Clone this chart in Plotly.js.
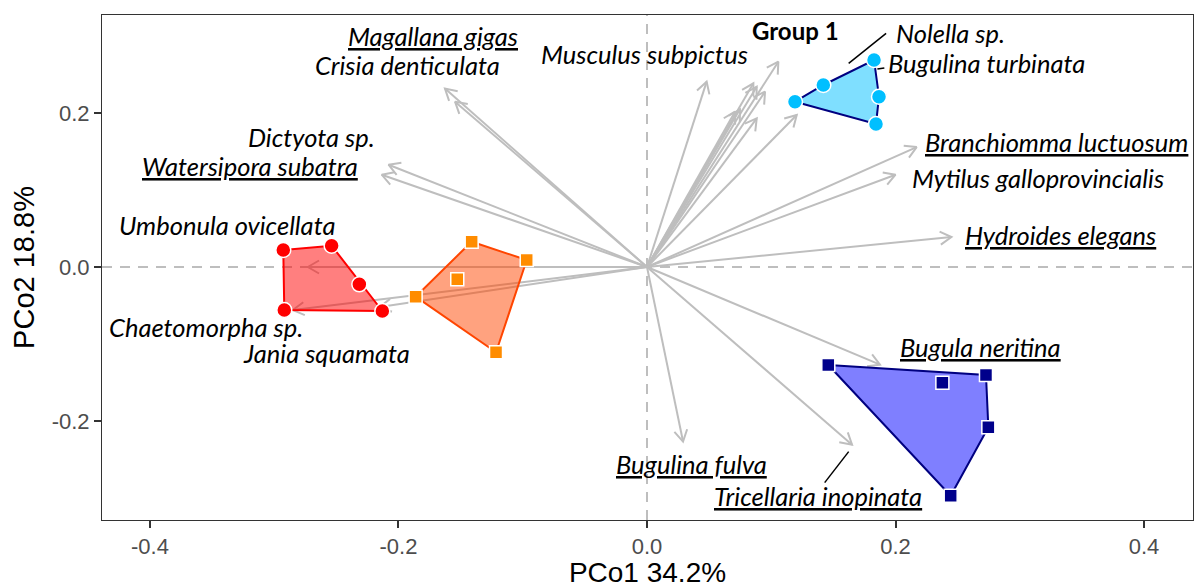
<!DOCTYPE html>
<html><head><meta charset="utf-8">
<script src="https://cdn.plot.ly/plotly-3.0.1.min.js"></script>
<style>html,body{margin:0;padding:0;background:#fff}</style>
</head><body><div id="chart" style="width:1200px;height:588px"></div>
<script>
// ---- sample scores (PCo1, PCo2) per group ----
const redX = [-0.2927, -0.2538, -0.2315, -0.2130, -0.2919];
const redY = [0.0221, 0.0277, -0.0225, -0.0572, -0.0559];
const orangeX = [-0.1411, -0.0968, -0.1527, -0.1862, -0.1215];
const orangeY = [0.0329, 0.0091, -0.0160, -0.0386, -0.1109];
const skyX = [0.1827, 0.1419, 0.1191, 0.1867, 0.1843];
const skyY = [0.2692, 0.2367, 0.2150, 0.2215, 0.1860];
const navyX = [0.1459, 0.2377, 0.2728, 0.2747, 0.2444];
const navyY = [-0.1274, -0.1504, -0.1404, -0.2085, -0.2974];

// ---- species vectors (arrow tips) ----
const vecX = [-0.1626, -0.1545, 0.0480, 0.1057, 0.0856, 0.0883, 0.0950, 0.0748, 0.0708, 0.0883, 0.1205,
              0.2170, 0.2000, 0.2450, -0.2080, -0.2135, -0.2730, -0.2850, -0.2150, 0.1875, 0.1650, 0.0290];
const vecY = [0.2320, 0.2150, 0.2410, 0.2670, 0.2389, 0.2345, 0.2280, 0.2050, 0.2020, 0.1933, 0.1977,
              0.1560, 0.1200, 0.0390, 0.1330, 0.1200, 0.0000, -0.0560, -0.0520, -0.1270, -0.2310, -0.2270];

// ---- species labels ----
const labelText = ["Magallana gigas", "Crisia denticulata", "Musculus subpictus", "Nolella sp.", "Bugulina turbinata",
  "Dictyota sp.", "Watersipora subatra", "Branchiomma luctuosum", "Mytilus galloprovincialis", "Umbonula ovicellata",
  "Hydroides elegans", "Chaetomorpha sp.", "Jania squamata", "Bugula neritina", "Bugulina fulva", "Tricellaria inopinata"];
const labelUnderlined = [true, false, false, false, false, false, true, true, false, false, true, false, false, true, true, true];
const labelX = [-0.1722, -0.1924, -0.0024, 0.2439, 0.2736, -0.2704, -0.3195, 0.3292, 0.3147, -0.3380,
  0.3324, -0.3549, -0.2583, 0.2680, 0.0362, 0.1376];
const labelY = [0.3005, 0.2630, 0.2770, 0.3043, 0.2653, 0.1690, 0.1313, 0.1625, 0.1157, 0.0546,
  0.0416, -0.0780, -0.1118, -0.1040, -0.2562, -0.2978];
const groupLabel = "Group 1";
const groupLabelX = 0.1191, groupLabelY = 0.3082;

// ---- label leader segments ----
const leadX = [0.1623, 0.1924, null, 0.1854, 0.1910, null, 0.1623, 0.1430];
const leadY = [0.2647, 0.3038, null, 0.2574, 0.2587, null, -0.2401, -0.2804];

const xRange = [-0.4386, 0.4394];
const yRange = [-0.329, 0.3277];
const W = 1200, H = 588, M = {l: 102, r: 7, t: 15, b: 68};
const pxX = (W - M.l - M.r) / (xRange[1] - xRange[0]);
const pxY = (H - M.t - M.b) / (yRange[1] - yRange[0]);

// arrows: shafts + open heads
const ax = [], ay = [];
const headLen = 13, headAng = Math.PI / 6;
for (let i = 0; i < vecX.length; i++) {
  const x = vecX[i], y = vecY[i];
  ax.push(0, x, null); ay.push(0, y, null);
  const dx = x * pxX, dy = y * pxY, L = Math.hypot(dx, dy);
  const ux = -dx / L, uy = -dy / L;
  const pts = [];
  for (const s of [1, -1]) {
    const a = headAng * s;
    const rx = ux * Math.cos(a) - uy * Math.sin(a);
    const ry = ux * Math.sin(a) + uy * Math.cos(a);
    pts.push([x + headLen * rx / pxX, y + headLen * ry / pxY]);
  }
  ax.push(pts[0][0], x, pts[1][0], null);
  ay.push(pts[0][1], y, pts[1][1], null);
}

function hull(xs, ys) {
  const p = xs.map((x, i) => [x * pxX, ys[i] * pxY, x, ys[i]]).sort((a, b) => a[0] - b[0] || a[1] - b[1]);
  const cross = (o, a, b) => (a[0] - o[0]) * (b[1] - o[1]) - (a[1] - o[1]) * (b[0] - o[0]);
  const lower = [], upper = [];
  for (const q of p) { while (lower.length >= 2 && cross(lower[lower.length - 2], lower[lower.length - 1], q) <= 0) lower.pop(); lower.push(q); }
  for (const q of p.slice().reverse()) { while (upper.length >= 2 && cross(upper[upper.length - 2], upper[upper.length - 1], q) <= 0) upper.pop(); upper.push(q); }
  const h = lower.slice(0, -1).concat(upper.slice(0, -1));
  h.push(h[0]);
  return {x: h.map(q => q[2]), y: h.map(q => q[3])};
}

const groups = [
  {x: redX, y: redY, fill: 'rgba(255,0,0,0.5)', line: '#FF0000', mk: '#FF0000', sym: 'circle', size: 15},
  {x: orangeX, y: orangeY, fill: 'rgba(255,69,0,0.5)', line: '#FF4500', mk: '#FF8C00', sym: 'square', size: 13},
  {x: skyX, y: skyY, fill: 'rgba(0,191,255,0.5)', line: '#000080', mk: '#00BFFF', sym: 'circle', size: 15},
  {x: navyX, y: navyY, fill: 'rgba(0,0,255,0.5)', line: '#000080', mk: '#00008B', sym: 'square', size: 13}
];

const traces = [];
traces.push({x: ax, y: ay, mode: 'lines', line: {color: '#BEBEBE', width: 2}, hoverinfo: 'skip', showlegend: false});
for (const g of groups) {
  const h = hull(g.x, g.y);
  traces.push({x: h.x, y: h.y, mode: 'lines', fill: 'toself', fillcolor: g.fill, line: {color: g.line, width: 2}, hoverinfo: 'skip', showlegend: false});
}
for (const g of groups) {
  traces.push({x: g.x, y: g.y, mode: 'markers', marker: {color: g.mk, symbol: g.sym, size: g.size, line: {color: '#FFFFFF', width: 1.5}}, showlegend: false});
}
traces.push({x: leadX, y: leadY, mode: 'lines', line: {color: '#000000', width: 1.5}, hoverinfo: 'skip', showlegend: false});

const annotations = labelText.map((t, i) => ({
  x: labelX[i], y: labelY[i], xref: 'x', yref: 'y', showarrow: false, xanchor: 'center', yanchor: 'middle',
  text: labelUnderlined[i] ? '<i><u>' + t + '</u></i>' : '<i>' + t + '</i>',
  font: {family: 'Lato, sans-serif', size: 25.5, color: '#000000'}
}));
annotations.push({x: groupLabelX, y: groupLabelY, xref: 'x', yref: 'y', showarrow: false, xanchor: 'center', yanchor: 'middle',
  text: '<b>' + groupLabel + '</b>', font: {family: 'Lato, sans-serif', size: 24, color: '#000000'}});

const axisCommon = {
  showgrid: false, zeroline: false, showline: true, mirror: true, linecolor: '#333333', linewidth: 1,
  ticks: 'outside', ticklen: 7, tickwidth: 2, tickcolor: '#333333',
  tickfont: {family: 'Liberation Sans, Arial, sans-serif', size: 22, color: '#4D4D4D'}
};

const layout = {
  width: W, height: H, margin: M, paper_bgcolor: '#FFFFFF', plot_bgcolor: '#FFFFFF',
  xaxis: Object.assign({}, axisCommon, {range: xRange, tickvals: [-0.4, -0.2, 0, 0.2, 0.4], ticktext: ['-0.4', '-0.2', '0.0', '0.2', '0.4'],
    title: {text: 'PCo1 34.2%', font: {family: 'Liberation Sans, Arial, sans-serif', size: 28, color: '#000000'}, standoff: 8}}),
  yaxis: Object.assign({}, axisCommon, {range: yRange, tickvals: [-0.2, 0, 0.2], ticktext: ['-0.2', '0.0', '0.2'],
    title: {text: 'PCo2 18.8%', font: {family: 'Liberation Sans, Arial, sans-serif', size: 29, color: '#000000'}, standoff: 8}}),
  shapes: [
    {type: 'line', xref: 'paper', x0: 0, x1: 1, yref: 'y', y0: 0, y1: 0, layer: 'below', line: {color: '#BEBEBE', width: 2, dash: '10px,8px'}},
    {type: 'line', yref: 'paper', y0: 0, y1: 1, xref: 'x', x0: 0, x1: 0, layer: 'below', line: {color: '#BEBEBE', width: 2, dash: '10px,8px'}}
  ],
  annotations: annotations
};

Plotly.newPlot('chart', traces, layout, {displayModeBar: false, staticPlot: true});
</script></body></html>
